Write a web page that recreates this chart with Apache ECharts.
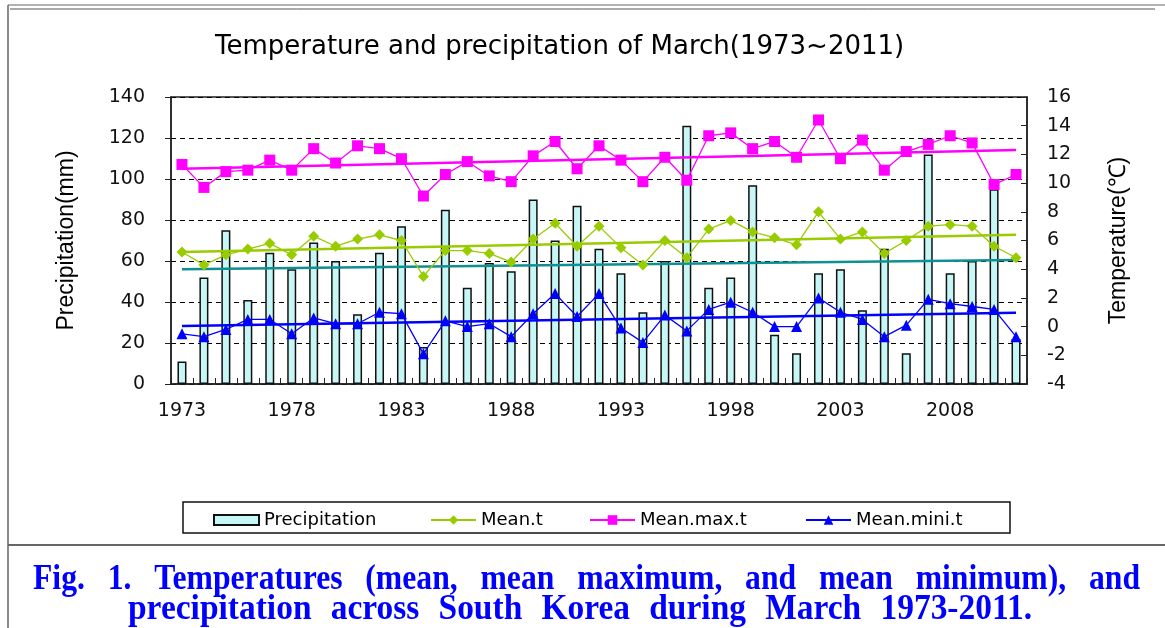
<!DOCTYPE html>
<html>
<head>
<meta charset="utf-8">
<script src="https://cdn.jsdelivr.net/npm/echarts@6/dist/echarts.min.js"></script>
<style>html,body{margin:0;padding:0;background:#fff}#c{width:1165px;height:628px}</style>
</head>
<body>
<div id="c"></div>
<script>
var years = ['1973','1974','1975','1976','1977','1978','1979','1980','1981','1982','1983','1984','1985','1986','1987','1988','1989','1990','1991','1992','1993','1994','1995','1996','1997','1998','1999','2000','2001','2002','2003','2004','2005','2006','2007','2008','2009','2010','2011'];
var precipitation = [11,52,75,41,64,56,69,60,34,64,77,18,85,47,59,55,90,70,87,66,54,35,60,126,47,52,97,24,15,54,56,36,66,15,112,54,60,95,22];
var meanT = [5.2,4.3,5.0,5.4,5.8,5.0,6.3,5.6,6.1,6.4,6.0,3.5,5.3,5.3,5.1,4.5,6.1,7.2,5.6,7.0,5.5,4.3,6.0,4.8,6.8,7.4,6.6,6.2,5.7,8.0,6.1,6.6,5.1,6.0,7.0,7.1,7.0,5.6,4.8];
var maxT = [11.3,9.7,10.8,10.9,11.6,10.9,12.4,11.4,12.6,12.4,11.7,9.1,10.6,11.5,10.5,10.1,11.9,12.9,11.0,12.6,11.6,10.1,11.8,10.2,13.3,13.5,12.4,12.9,11.8,14.4,11.7,13.0,10.9,12.2,12.7,13.3,12.8,9.9,10.6];
var minT = [-0.5,-0.7,-0.2,0.5,0.5,-0.5,0.6,0.2,0.2,1.0,0.9,-1.9,0.4,0.0,0.2,-0.7,0.9,2.3,0.7,2.3,-0.1,-1.1,0.8,-0.3,1.2,1.7,1.0,0.0,0.0,2.0,1.0,0.5,-0.7,0.1,1.9,1.6,1.4,1.2,-0.7];
// trend line end values (first year, last year)
var trendPrecip = [56, 60.5];
var trendMean = [5.2, 6.4];
var trendMax = [11.0, 12.3];
var trendMin = [0.04, 0.97];
var leftTicks = {min: 0, max: 140, interval: 20};
var rightTicks = {min: -4, max: 16, interval: 2};
var legendNames = ['Precipitation','Mean.t','Mean.max.t','Mean.mini.t'];
var titleText = 'Temperature and precipitation of March(1973~2011)';
var captionLine1 = 'Fig. 1. Temperatures (mean, mean maximum, and mean minimum), and';
var captionLine2 = 'precipitation across South Korea during March 1973-2011.';

function trend(v){ return [[years[0], v[0]], [years[years.length-1], v[1]]]; }

var chart = echarts.init(document.getElementById('c'), null, {renderer:'canvas'});

// caption words justified across each line (condensed bold serif)
var capFont = 'bold 36px "Liberation Serif"';
var ctx = document.createElement('canvas').getContext('2d');
ctx.font = capFont;
var capEls = [];
function justify(text, l, r, y, sc){
  var words = text.split(' ');
  var totalW = 0;
  var ws = words.map(function(w){ var m = ctx.measureText(w).width * sc; totalW += m; return m; });
  var gap = (r - l - totalW) / (words.length - 1);
  var xx = l;
  words.forEach(function(w, i){
    capEls.push({type:'text', x: xx, y: y, scaleX: sc, silent:true,
      style:{text:w, font: capFont, fill:'#0000ff', x:0, y:0, verticalAlign:'top'}});
    xx += ws[i] + gap;
  });
}
justify(captionLine1, 33, 1140, 562, 0.88);
justify(captionLine2, 128, 1032, 592, 0.93);

var axisFont = {fontFamily:'DejaVu Sans', fontSize:19, color:'#111'};
var legendLefts = [213, 430, 589, 805];
var legendTxt = {fontFamily:'DejaVu Sans', fontSize:18, color:'#000'};
var legends = legendNames.map(function(n, i){
  return {left:legendLefts[i], top:511, itemWidth:45, itemHeight:i===0?10:12, padding:0,
    textStyle:legendTxt, data:[i===0?{name:n, icon:'rect'}:n]};
});

chart.setOption({
  animation:false,
  title:{text:titleText, left:210, top:29, textStyle:{fontFamily:'DejaVu Sans', fontSize:26, fontWeight:'normal', color:'#000'}},
  grid:{left:171, right:138, top:97, bottom:244, show:true, borderColor:'#222', borderWidth:1.5, containLabel:false},
  legend:legends,
  xAxis:{
    type:'category', data:years, boundaryGap:true,
    axisLine:{lineStyle:{color:'#222', width:1.5}},
    axisTick:{show:true, inside:true, length:6, interval:0, lineStyle:{color:'#222'}},
    axisLabel:Object.assign({interval:4, margin:18}, axisFont)
  },
  yAxis:[
    {type:'value', min:leftTicks.min, max:leftTicks.max, interval:leftTicks.interval,
     name:'Precipitation(mm)', nameLocation:'middle', nameGap:93,
     nameTextStyle:{fontFamily:'Liberation Sans', fontSize:23, color:'#000'},
     axisLine:{show:true, lineStyle:{color:'#222', width:1.5}},
     axisTick:{show:true, length:6, lineStyle:{color:'#222'}},
     axisLabel:Object.assign({margin:26}, axisFont),
     splitLine:{show:true, lineStyle:{color:'#000', type:[5,4], width:1}}},
    {type:'value', min:rightTicks.min, max:rightTicks.max, interval:rightTicks.interval, position:'right',
     name:'Temperature(\u2103)', nameLocation:'middle', nameGap:80,
     nameTextStyle:{fontFamily:'Liberation Sans', fontSize:23, color:'#000'},
     axisLine:{show:true, lineStyle:{color:'#222', width:1.5}},
     axisTick:{show:true, inside:true, length:6, lineStyle:{color:'#222'}},
     axisLabel:Object.assign({margin:20, align:'left'}, axisFont),
     splitLine:{show:false}}
  ],
  series:[
    {name:'Precipitation', type:'bar', yAxisIndex:0, data:precipitation, barWidth:9,
     itemStyle:{color:'#c6f6f6', borderColor:'#111', borderWidth:1.5}},
    {name:'trendP', type:'line', yAxisIndex:0, data:trend(trendPrecip), symbol:'none', silent:true,
     lineStyle:{color:'#0f8f8f', width:2.5}, z:3},
    {name:'trendMean', type:'line', yAxisIndex:1, data:trend(trendMean), symbol:'none', silent:true,
     lineStyle:{color:'#99cc00', width:2.5}, z:3},
    {name:'trendMax', type:'line', yAxisIndex:1, data:trend(trendMax), symbol:'none', silent:true,
     lineStyle:{color:'#ff00ff', width:2.5}, z:3},
    {name:'trendMin', type:'line', yAxisIndex:1, data:trend(trendMin), symbol:'none', silent:true,
     lineStyle:{color:'#0000ff', width:2.5}, z:3},
    {name:'Mean.t', type:'line', yAxisIndex:1, data:meanT, symbol:'diamond', symbolSize:11,
     itemStyle:{color:'#99cc00'}, lineStyle:{color:'#99cc00', width:1.3}, z:4},
    {name:'Mean.max.t', type:'line', yAxisIndex:1, data:maxT, symbol:'rect', symbolSize:11,
     itemStyle:{color:'#ff00ff'}, lineStyle:{color:'#ff00ff', width:1.3}, z:4},
    {name:'Mean.mini.t', type:'line', yAxisIndex:1, data:minT, symbol:'triangle', symbolSize:11,
     itemStyle:{color:'#0000ff'}, lineStyle:{color:'#0000ff', width:1.3}, z:4}
  ],
  graphic:[
    {type:'line', silent:true, shape:{x1:8, y1:5, x2:1165, y2:5}, style:{stroke:'#999', lineWidth:1.5}},
    {type:'line', silent:true, shape:{x1:10, y1:9, x2:1155, y2:9}, style:{stroke:'#555', lineWidth:1}},
    {type:'line', silent:true, shape:{x1:8, y1:5, x2:8, y2:628}, style:{stroke:'#666', lineWidth:1.5}},
    {type:'line', silent:true, shape:{x1:8, y1:545, x2:1165, y2:545}, style:{stroke:'#666', lineWidth:2}},
    {type:'rect', silent:true, shape:{x:183, y:502, width:827, height:31}, style:{fill:'none', stroke:'#111', lineWidth:1.5}}
  ].concat(capEls)
});
</script>
</body>
</html>
